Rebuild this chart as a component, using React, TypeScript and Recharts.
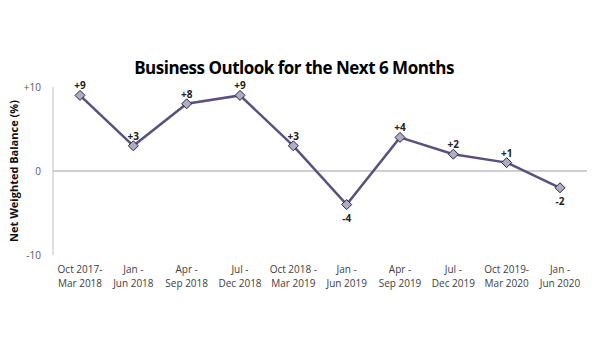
import React from "react";
import { LineChart, Line, XAxis, YAxis, ReferenceLine, LabelList } from "recharts";

const periodsTop = ["Oct 2017-", "Jan -", "Apr -", "Jul -", "Oct 2018 -", "Jan -", "Apr -", "Jul -", "Oct 2019-", "Jan -"];
const periodsBottom = ["Mar 2018", "Jun 2018", "Sep 2018", "Dec 2018", "Mar 2019", "Jun 2019", "Sep 2019", "Dec 2019", "Mar 2020", "Jun 2020"];
const balance = [9, 3, 8, 9, 3, -4, 4, 2, 1, -2];
const yTicks = [-10, 0, 10];

const data = periodsTop.map((t, i) => ({ key: i, top: t, bottom: periodsBottom[i], value: balance[i] }));

const FONT = "'Open Sans', sans-serif";
const fmt = (v: number) => (v > 0 ? `+${v}` : `${v}`);

const XTick = (props: any) => {
  const { x, y, payload } = props;
  const d = data[payload.value];
  return (
    <g transform={`translate(${x},${y})`}>
      <text x={0} y={0} textAnchor="middle" fontSize={10} fill="#404040" fontFamily={FONT}>
        <tspan x={0} dy={10}>{d.top}</tspan>
        <tspan x={0} dy={14}>{d.bottom}</tspan>
      </text>
    </g>
  );
};

const Diamond = (props: any) => {
  const { cx, cy } = props;
  if (cx == null || cy == null) return null;
  const r = 5;
  return (
    <path
      d={`M${cx},${cy - r} L${cx + r},${cy} L${cx},${cy + r} L${cx - r},${cy} Z`}
      fill="#b0acc6"
      stroke="#2a2438"
      strokeWidth={1}
    />
  );
};

const ValueLabel = (props: any) => {
  const { x, y, value } = props;
  const above = value >= 0;
  return (
    <text
      x={x}
      y={above ? y - 6 : y + 17}
      textAnchor="middle"
      fontSize={10}
      fontWeight="bold"
      fill="#222"
      fontFamily={FONT}
    >
      {fmt(value)}
    </text>
  );
};

export default function App() {
  return (
    <div style={{ position: "absolute", left: 0, top: 0, width: 600, height: 360, background: "#fff" }}>
      <div
        style={{
          position: "absolute",
          left: -6,
          top: 59,
          width: 600,
          textAlign: "center",
          fontFamily: FONT,
          fontWeight: "bold",
          fontSize: 17,
          letterSpacing: "-0.5px",
          lineHeight: "17px",
          color: "#000",
        }}
      >
        Business Outlook for the Next 6 Months
      </div>
      <LineChart width={600} height={360} data={data} margin={{ top: 87, right: 13, bottom: 65, left: 0 }}>
        <XAxis
          dataKey="key"
          axisLine={false}
          tickLine={false}
          tick={<XTick />}
          height={40}
          interval={0}
          padding={{ left: 27, right: 27 }}
        />
        <YAxis
          domain={[-10, 10]}
          ticks={yTicks}
          width={53}
          tickLine={false}
          axisLine={{ stroke: "#bfbfbf" }}
          tickFormatter={(v: number) => fmt(v)}
          tick={{ fontSize: 10, fill: "#595959", fontFamily: FONT }}
          tickMargin={6}
          label={{
            value: "Net Weighted Balance (%)",
            angle: -90,
            position: "insideLeft",
            offset: 14,
            style: { textAnchor: "middle", fontSize: 11, fontWeight: "bold", fill: "#111", fontFamily: FONT },
          }}
        />
        <ReferenceLine y={0} stroke="#bfbfbf" strokeWidth={1.5} />
        <Line
          type="linear"
          dataKey="value"
          stroke="#5a4f7d"
          strokeWidth={2.5}
          dot={<Diamond />}
          activeDot={false}
          isAnimationActive={false}
        >
          <LabelList dataKey="value" content={<ValueLabel />} />
        </Line>
      </LineChart>
    </div>
  );
}
